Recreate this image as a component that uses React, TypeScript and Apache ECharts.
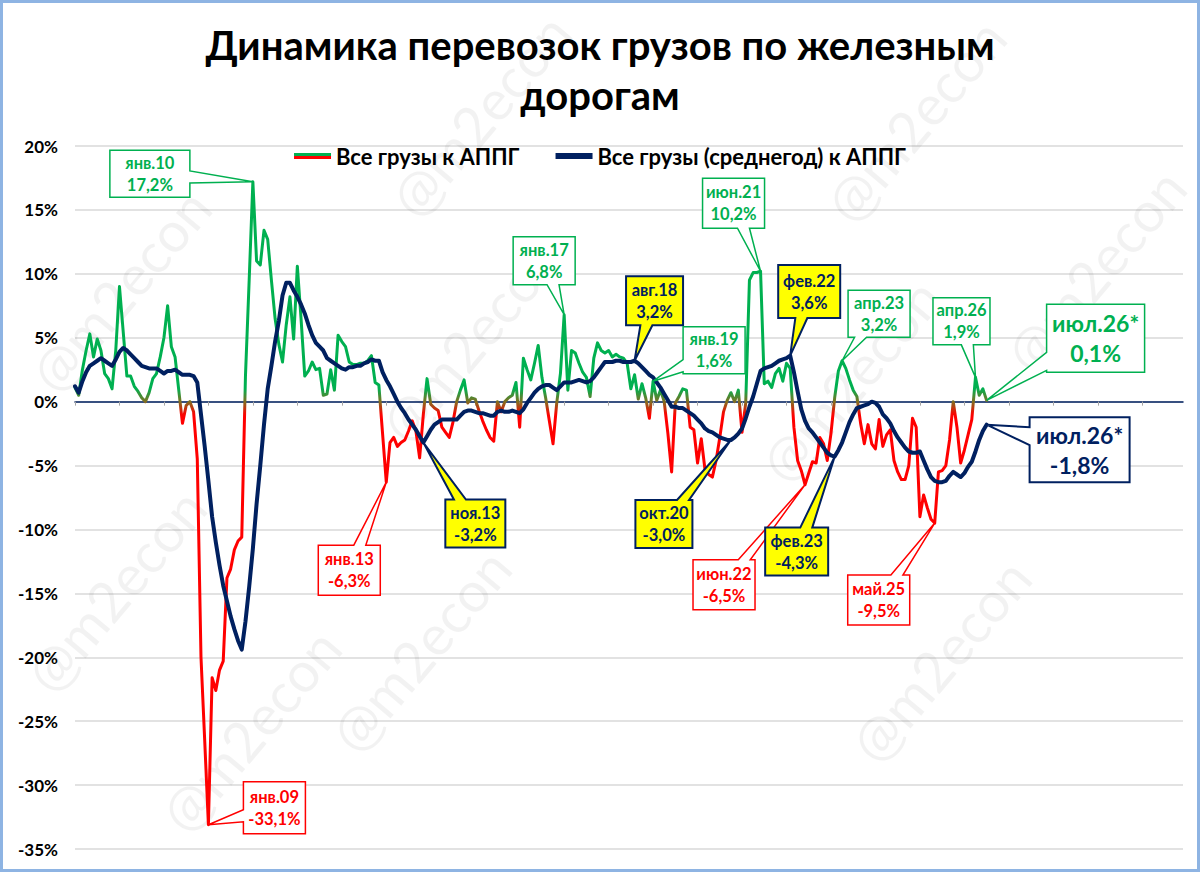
import React, { useEffect, useRef } from "react";
import * as echarts from "echarts";

const FONT = "Lato, 'Noto Sans', sans-serif";

// ---- categories: months from Jan 2006 to Dec 2030 ----
const MONTH_NAMES = ["янв", "фев", "мар", "апр", "май", "июн", "июл", "авг", "сен", "окт", "ноя", "дек"];
const FIRST_YEAR = 2006;
const LAST_YEAR = 2030;
const months: string[] = [];
for (let y = FIRST_YEAR; y <= LAST_YEAR; y++) {
  for (const m of MONTH_NAMES) months.push(`${m}.${String(y).slice(2)}`);
}

// ---- Все грузы к АППГ, % (Jan 2006 .. Jul 2026) ----
const allFreight: number[] = [
  1.1, 0.5, 2.5, 4.0, 5.3, 3.5, 4.9, 4.0, 2.2, 1.8, 1.0, 4.0, // 2006
  9.0, 5.5, 2.0, 2.0, 1.2, 0.8, 0.3, 0.0, 0.7, 1.8, 2.2, 3.5, // 2007
  5.0, 7.5, 4.3, 3.5, 0.9, -1.7, -0.3, 0.0, -0.8, -4.5, -20.0, -26.5, // 2008
  -33.1, -21.6, -22.6, -21.0, -20.3, -13.8, -13.1, -11.6, -10.9, -10.6, 2.0, 9.5, // 2009
  17.2, 11.0, 10.7, 13.4, 12.7, 9.5, 6.5, 4.5, 3.1, 6.0, 8.2, 4.9, // 2010
  10.6, 6.5, 2.0, 2.4, 3.1, 2.5, 2.6, 0.5, 0.6, 2.5, 0.9, 5.2, // 2011
  4.7, 4.3, 3.1, 2.9, 2.9, 3.0, 3.0, 3.2, 3.6, 1.5, 1.3, -2.5, // 2012
  -6.3, -3.2, -2.8, -3.5, -3.2, -3.0, -2.3, -1.5, -2.3, -4.4, -1.0, 1.8, // 2013
  -0.2, -0.5, -0.7, -2.0, -2.4, -2.8, -1.6, 0.0, 0.9, 1.7, -0.1, 0.3, // 2014
  0.2, -0.7, -1.5, -2.2, -2.8, -3.1, 0.0, -0.8, 0.0, 0.3, 0.5, 1.5, // 2015
  -2.0, 3.4, 2.5, 1.7, 3.0, 4.4, 1.9, 0.3, -1.5, -3.3, -0.1, 2.2, // 2016
  6.8, 0.9, 4.0, 3.8, 3.0, 2.3, 1.9, 0.4, 3.4, 4.6, 4.0, 3.8, // 2017
  4.0, 3.5, 3.7, 3.5, 3.4, 3.0, 1.0, 2.1, 0.2, 1.4, 0.3, -1.3, // 2018
  1.6, 0.1, 0.9, 0.0, -2.5, -5.5, -0.1, 0.4, 1.0, 0.9, -2.0, -2.2, // 2019
  -4.8, -2.9, -5.3, -5.7, -5.9, -4.6, -2.8, -0.8, 0.1, 0.7, 0.0, 0.9, // 2020
  -2.4, -0.1, 9.5, 10.1, 10.1, 10.2, 1.4, 1.6, 1.1, 2.2, 2.6, 1.6, // 2021
  3.0, 2.6, -2.0, -4.6, -5.4, -6.5, -5.6, -4.7, -4.8, -2.8, -3.3, -4.6, // 2022
  -2.5, 0.3, 2.4, 3.2, 2.6, 1.7, 0.9, 0.4, -1.7, -3.3, -1.8, -3.3, // 2023
  -3.7, -1.4, -3.5, -2.6, -2.2, -4.6, -5.5, -6.1, -6.1, -5.0, -1.3, -2.0, // 2024
  -9.0, -7.3, -8.3, -9.2, -9.5, -5.5, -5.4, -5.0, -3.0, 0.0, -2.0, -4.8, // 2025
  -3.8, -2.6, -1.4, 1.9, 0.5, 1.0, 0.1, // 2026
];

// ---- Все грузы (среднегод) к АППГ, % ----
const allFreightAvg: number[] = [
  1.2, 0.7, 1.6, 2.3, 2.8, 3.0, 3.2, 3.4, 3.2, 3.0, 2.8, 3.3, // 2006
  3.9, 4.2, 4.0, 3.7, 3.4, 3.1, 2.8, 2.7, 2.6, 2.6, 2.6, 2.4, // 2007
  2.2, 2.4, 2.4, 2.5, 2.3, 2.1, 2.1, 2.1, 2.0, 1.5, -1.0, -3.5, // 2008
  -6.2, -9.0, -11.0, -12.8, -14.4, -15.6, -16.8, -17.8, -18.7, -19.4, -17.2, -14.5, // 2009
  -11.5, -8.0, -5.0, -1.8, 1.0, 2.8, 4.7, 6.3, 8.3, 9.3, 9.3, 8.7, // 2010
  8.2, 7.6, 6.9, 6.0, 5.2, 4.6, 4.3, 4.0, 3.4, 3.2, 3.0, 2.8, // 2011
  2.6, 2.5, 2.7, 2.7, 2.8, 2.8, 3.0, 3.1, 3.3, 3.2, 3.2, 2.3, // 2012
  1.7, 1.2, 0.6, 0.0, -0.5, -0.9, -1.4, -1.8, -2.2, -2.7, -3.2, -2.7, // 2013
  -2.2, -1.8, -1.6, -1.4, -1.4, -1.4, -1.4, -1.4, -1.1, -0.8, -0.7, -0.7, // 2014
  -0.8, -0.9, -0.9, -1.0, -1.1, -1.1, -0.8, -0.7, -0.8, -0.8, -0.7, -0.8, // 2015
  -0.9, -0.6, -0.1, 0.3, 0.7, 1.0, 1.2, 1.3, 1.3, 1.1, 0.9, 1.2, // 2016
  1.5, 1.5, 1.5, 1.6, 1.7, 1.6, 1.5, 1.6, 1.9, 2.3, 2.7, 3.1, // 2017
  3.1, 3.1, 3.2, 3.2, 3.1, 3.1, 3.1, 3.2, 3.0, 2.7, 2.4, 2.1, // 2018
  1.9, 1.5, 1.1, 0.6, 0.1, -0.4, -0.4, -0.5, -0.5, -0.7, -0.9, -1.1, // 2019
  -1.4, -1.7, -2.1, -2.3, -2.4, -2.6, -2.8, -2.9, -3.0, -3.0, -2.8, -2.5, // 2020
  -2.1, -1.3, -0.4, 0.4, 1.4, 2.4, 2.6, 2.7, 2.8, 3.0, 3.2, 3.3, // 2021
  3.4, 3.6, 2.3, 0.8, -0.6, -1.5, -2.1, -2.4, -2.8, -3.2, -3.6, -4.0, // 2022
  -4.2, -4.3, -3.8, -3.2, -2.4, -1.6, -1.0, -0.5, -0.4, -0.3, -0.2, 0.0, // 2023
  -0.1, -0.4, -1.0, -1.3, -1.7, -2.3, -2.8, -3.2, -3.6, -3.9, -4.0, -4.0, // 2024
  -3.9, -4.6, -5.3, -5.9, -6.2, -6.3, -6.3, -6.2, -5.8, -5.5, -5.7, -5.9, // 2025
  -5.6, -5.1, -4.7, -3.9, -3.0, -2.3, -1.8, // 2026
];

const SERIES_NAMES = ["Все грузы к АППГ", "Все грузы (среднегод) к АППГ"];
const TITLE_LINES = ["Динамика перевозок грузов по железным", "дорогам"];
const Y_MIN = -35;
const Y_MAX = 20;
const Y_STEP = 5;

const GREEN = "#00B050";
const RED = "#FF0000";
const NAVY = "#002060";
const YELLOW = "#FFFF00";

type Kind = "green" | "red" | "yellow" | "navy";
interface Callout {
  idx: number;
  series: 0 | 1;
  kind: Kind;
  dx: number;
  dy: number;
  w: number;
  h: number;
  big?: boolean;
  star?: boolean;
}

// callouts: data index, series, style, box-centre offset from the point
const callouts: Callout[] = [
  { idx: 48, series: 0, kind: "green", dx: -103, dy: -8, w: 80, h: 47 },
  { idx: 36, series: 0, kind: "red", dx: 66, dy: -17, w: 62, h: 52 },
  { idx: 84, series: 0, kind: "red", dx: -37, dy: 88, w: 62, h: 50 },
  { idx: 94, series: 1, kind: "yellow", dx: 52, dy: 81, w: 60, h: 48 },
  { idx: 132, series: 0, kind: "green", dx: -20, dy: -54, w: 62, h: 48 },
  { idx: 151, series: 1, kind: "yellow", dx: 20, dy: -60, w: 57, h: 49 },
  { idx: 156, series: 0, kind: "green", dx: 61, dy: -31, w: 62, h: 47 },
  { idx: 177, series: 1, kind: "yellow", dx: -67, dy: 84, w: 57, h: 48 },
  { idx: 185, series: 0, kind: "green", dx: -27, dy: -68, w: 62, h: 50 },
  { idx: 193, series: 1, kind: "yellow", dx: 19, dy: -64, w: 62, h: 53 },
  { idx: 197, series: 0, kind: "red", dx: -81, dy: 100, w: 62, h: 50 },
  { idx: 205, series: 1, kind: "yellow", dx: -38, dy: 95, w: 63, h: 48 },
  { idx: 207, series: 0, kind: "green", dx: 37, dy: -47, w: 62, h: 47 },
  { idx: 232, series: 0, kind: "red", dx: -56, dy: 77, w: 62, h: 50 },
  { idx: 243, series: 0, kind: "green", dx: -14, dy: -56, w: 57, h: 47 },
  { idx: 246, series: 0, kind: "green", dx: 109, dy: -62, w: 98, h: 68, big: true, star: true },
  { idx: 246, series: 1, kind: "navy", dx: 93, dy: 25, w: 100, h: 65, big: true, star: true },
];

const WATERMARK = "@m2econ";
const watermarkSpots: [number, number][] = [
  [480, 115], [915, 120], [120, 290], [470, 340], [850, 380], [1095, 270],
  [115, 590], [420, 650], [940, 660], [250, 730],
];

function kindStyle(k: Kind) {
  switch (k) {
    case "green":
      return { fill: "#FFFFFF", stroke: GREEN, text: GREEN, lw: 1.5 };
    case "red":
      return { fill: "#FFFFFF", stroke: RED, text: RED, lw: 1.5 };
    case "yellow":
      return { fill: YELLOW, stroke: NAVY, text: NAVY, lw: 2 };
    default:
      return { fill: "#FFFFFF", stroke: NAVY, text: NAVY, lw: 2 };
  }
}

function calloutPoints(cx: number, cy: number, w: number, h: number, px: number, py: number, hw: number) {
  const L = cx - w / 2, R = cx + w / 2, T = cy - h / 2, B = cy + h / 2;
  const dx = px - cx, dy = py - cy;
  const clamp = (v: number, a: number, b: number) => Math.max(a, Math.min(b, v));
  if (Math.abs(dx) / (w / 2) > Math.abs(dy) / (h / 2)) {
    const ey = clamp(cy + (dy * (w / 2)) / Math.abs(dx), T + hw + 2, B - hw - 2);
    if (dx > 0) {
      return [[L, T], [R, T], [R, ey - hw], [px, py], [R, ey + hw], [R, B], [L, B]];
    }
    return [[L, T], [R, T], [R, B], [L, B], [L, ey + hw], [px, py], [L, ey - hw]];
  }
  const ex = clamp(cx + (dx * (h / 2)) / Math.abs(dy), L + hw + 2, R - hw - 2);
  if (dy > 0) {
    return [[L, T], [R, T], [R, B], [ex + hw, B], [px, py], [ex - hw, B], [L, B]];
  }
  return [[L, T], [ex - hw, T], [px, py], [ex + hw, T], [R, T], [R, B], [L, B]];
}

function fmtPct(v: number) {
  return `${v.toFixed(1).replace(".", ",")}%`;
}

function textEl(text: string, x: number, y: number, font: string, fill: string, z: number, extra: any = {}) {
  return {
    type: "text",
    x,
    y,
    z,
    silent: true,
    ...extra,
    style: {
      text,
      font,
      fill,
      align: "center",
      verticalAlign: "middle",
      textAlign: "center",
      textVerticalAlign: "middle",
    },
  };
}

export default function App() {
  const ref = useRef<HTMLDivElement>(null);

  useEffect(() => {
    if (!ref.current) return;
    const chart = echarts.init(ref.current, null, { renderer: "svg" });

    // colour stops: red below -1 %, green above +1 %, blended through 0
    const vmColors: string[] = [];
    for (let v = Y_MIN; v <= Y_MAX; v++) {
      vmColors.push(v < 0 ? RED : v > 0 ? GREEN : "#807020");
    }

    const legendGradient = new echarts.graphic.LinearGradient(0, 0, 0, 1, [
      { offset: 0, color: GREEN },
      { offset: 0.5, color: GREEN },
      { offset: 0.5, color: RED },
      { offset: 1, color: RED },
    ]);

    chart.setOption({
      animation: false,
      backgroundColor: "#FFFFFF",
      grid: { left: 75, right: 17, top: 146, bottom: 23 },
      legend: {
        top: 140,
        left: "center",
        icon: "rect",
        itemWidth: 37,
        itemHeight: 6,
        itemGap: 36,
        textStyle: { fontFamily: FONT, fontSize: 22, fontWeight: "bold", color: "#000" },
        data: [
          { name: SERIES_NAMES[0], itemStyle: { color: legendGradient } },
          { name: SERIES_NAMES[1], itemStyle: { color: NAVY } },
        ],
      },
      visualMap: {
        show: false,
        type: "continuous",
        seriesIndex: 0,
        dimension: 1,
        min: Y_MIN,
        max: Y_MAX,
        inRange: { color: vmColors },
      },
      xAxis: {
        type: "category",
        data: months,
        boundaryGap: false,
        axisLabel: { show: false },
        axisLine: { onZero: true, lineStyle: { color: NAVY, width: 1.5 } },
        axisTick: {
          show: true,
          interval: (i: number) => i % 12 === 0,
          length: 4,
          lineStyle: { color: "#A6A6A6", width: 1 },
        },
        splitLine: { show: false },
      },
      yAxis: {
        type: "value",
        min: Y_MIN,
        max: Y_MAX,
        interval: Y_STEP,
        axisLine: { show: false },
        axisTick: { show: false },
        axisLabel: {
          formatter: (v: number) => `${v}%`,
          fontFamily: FONT,
          fontSize: 17,
          fontWeight: "bold",
          color: "#000",
          margin: 17,
        },
        splitLine: { lineStyle: { color: "#D9D9D9", width: 1.5 } },
      },
      series: [
        {
          name: SERIES_NAMES[0],
          type: "line",
          data: allFreight,
          symbol: "none",
          z: 3,
          lineStyle: { width: 3, join: "round", cap: "round" },
        },
        {
          name: SERIES_NAMES[1],
          type: "line",
          data: allFreightAvg,
          symbol: "none",
          z: 4,
          itemStyle: { color: NAVY },
          lineStyle: { width: 4, color: NAVY, join: "round", cap: "round" },
        },
      ],
    });

    const g: any[] = [];
    // watermark
    for (const [wx, wy] of watermarkSpots) {
      g.push(
        textEl(WATERMARK, wx, wy, `56px ${FONT}`, "rgba(0,0,0,0.05)", 0, {
          rotation: (50 * Math.PI) / 180,
        })
      );
    }
    // title
    g.push(textEl(TITLE_LINES[0], 600, 45, `bold 40px ${FONT}`, "#000", 10));
    g.push(textEl(TITLE_LINES[1], 600, 95, `bold 40px ${FONT}`, "#000", 10));

    // callouts
    for (const c of callouts) {
      const data = c.series === 0 ? allFreight : allFreightAvg;
      const v = data[c.idx];
      const [px, py] = chart.convertToPixel({ gridIndex: 0 }, [c.idx, v]) as number[];
      const cx = px + c.dx;
      const cy = py + c.dy;
      const st = kindStyle(c.kind);
      const pts = calloutPoints(cx, cy, c.w, c.h, px, py, c.big ? 9 : 6);
      g.push({
        type: "polygon",
        z: 100,
        silent: true,
        shape: { points: pts },
        style: { fill: st.fill, stroke: st.stroke, lineWidth: st.lw, lineJoin: "miter" },
      });
      const fs = c.big ? 23 : 16.5;
      const gap = c.big ? 15 : 11;
      const label = months[c.idx] + (c.star ? "*" : "");
      g.push(textEl(label, cx, cy - gap, `bold ${fs}px ${FONT}`, st.text, 101));
      g.push(textEl(fmtPct(v), cx, cy + gap, `bold ${fs}px ${FONT}`, st.text, 101));
    }

    // outer frame
    g.push({
      type: "rect",
      z: 120,
      silent: true,
      shape: { x: 1.5, y: 1.5, width: 1197, height: 869 },
      style: { fill: "none", stroke: "#8EB4E3", lineWidth: 3 },
    });

    chart.setOption({ graphic: g });

    return () => chart.dispose();
  }, []);

  return (
    <div
      ref={ref}
      style={{ position: "fixed", left: 0, top: 0, width: 1200, height: 872, background: "#fff" }}
    />
  );
}
